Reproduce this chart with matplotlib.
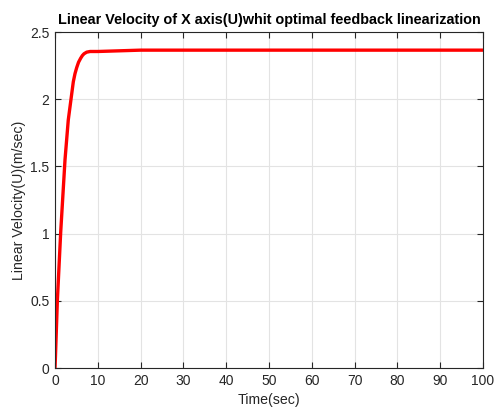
import matplotlib
matplotlib.use('Agg')
from matplotlib import pyplot as plt
import numpy as np

# time (s) and linear velocity U (m/s) read along the response
t = [0, 0.1, 0.55, 1.33, 2.34, 3.1, 3.74, 4.28, 4.67, 5.07, 5.5, 6.0, 6.4, 6.78, 7.4, 8.2, 10, 15, 20, 30, 50, 100]
u = [0, 0.08, 0.5, 1.01, 1.55, 1.845, 2.0, 2.13, 2.19, 2.235, 2.275, 2.305, 2.325, 2.338, 2.35, 2.355, 2.355, 2.36, 2.365, 2.365, 2.365, 2.365]

xticks = np.arange(0, 101, 10)
yticks = [0, 0.5, 1, 1.5, 2, 2.5]

plt.rcParams['font.family'] = ['Liberation Sans', 'DejaVu Sans']
fig = plt.figure(figsize=(4.94, 4.07), dpi=100)
ax = fig.add_axes([55/494, 1-368/407, 428/494, 336/407])

ax.plot(t, u, '-', c='red', lw=2.4)
ax.set_xlim(0, 100)
ax.set_ylim(0, 2.5)
ax.set_xticks(xticks)
ax.set_yticks(yticks)
ax.set_yticklabels(['0', '0.5', '1', '1.5', '2', '2.5'])
ax.grid(True, color='#e3e3e3', lw=0.8)
ax.set_axisbelow(True)
ax.tick_params(direction='in', top=True, right=True, labelsize=10, colors='#262626', length=4.5, width=0.8, pad=4)
for s in ax.spines.values():
    s.set_color('#262626')
    s.set_linewidth(0.8)

ax.set_title('Linear Velocity of X axis(U)whit optimal feedback linearization',
             fontsize=10.4, fontweight='bold', pad=6)
ax.set_xlabel('Time(sec)', fontsize=10.2, color='#262626', labelpad=4)
ax.set_ylabel('Linear Velocity(U)(m/sec)', fontsize=10.2, color='#262626', labelpad=3)

fig.savefig('out.png', dpi=100)
